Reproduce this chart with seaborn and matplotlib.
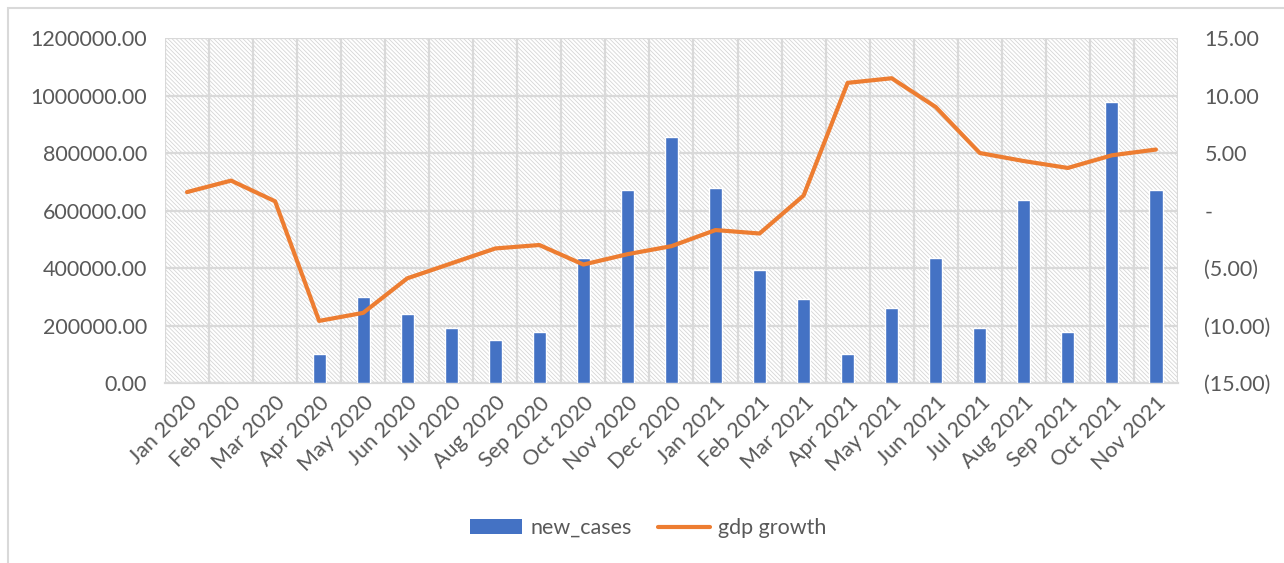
import matplotlib
matplotlib.use("Agg")
import matplotlib.pyplot as plt
import matplotlib.ticker as mticker
from matplotlib.lines import Line2D
from matplotlib.patches import Patch, Rectangle
import numpy as np
import pandas as pd
import seaborn as sns

# data
months = ["Jan 2020", "Feb 2020", "Mar 2020", "Apr 2020", "May 2020", "Jun 2020",
          "Jul 2020", "Aug 2020", "Sep 2020", "Oct 2020", "Nov 2020", "Dec 2020",
          "Jan 2021", "Feb 2021", "Mar 2021", "Apr 2021", "May 2021", "Jun 2021",
          "Jul 2021", "Aug 2021", "Sep 2021", "Oct 2021", "Nov 2021"]
new_cases = [0, 0, 0, 100000, 300000, 240000,
             190000, 150000, 178000, 435000, 670000, 855000,
             680000, 392000, 293000, 100000, 262000, 435000,
             190000, 635000, 178000, 978000, 670000]
gdp_growth = [1.6, 2.6, 0.8, -9.6, -8.9, -5.9,
              -4.6, -3.3, -3.0, -4.7, -3.8, -3.1,
              -1.7, -2.0, 1.3, 11.1, 11.5, 9.0,
              5.0, 4.3, 3.7, 4.8, 5.3]

left_ticks = [0, 200000, 400000, 600000, 800000, 1000000, 1200000]
right_ticks = [-15, -10, -5, 0, 5, 10, 15]

BLUE = "#4472C4"
ORANGE = "#ED7D31"
GRID = "#d9d9d9"
TXT = "#595959"
FS = 15.5

df = pd.DataFrame({"month": months, "new_cases": new_cases, "gdp": gdp_growth})

sns.set_style("white")
plt.rcParams["font.family"] = ["Lato", "DejaVu Sans"]
plt.rcParams["hatch.color"] = "#d6d6d6"
plt.rcParams["hatch.linewidth"] = 0.6

fig = plt.figure(figsize=(12.84, 5.63), dpi=100)
ax = fig.add_axes([0.1285, 0.3197, 0.7889, 0.6128])

# hatched plot area like the Excel chart
ax.patch.set_facecolor("white")
ax.patch.set_hatch("\\" * 8)
ax.patch.set_edgecolor("#d6d6d6")
ax.patch.set_linewidth(0)

sns.barplot(data=df, x="month", y="new_cases", color=BLUE, width=0.3,
            saturation=1, ax=ax, zorder=3)

ax.set_ylim(0, 1200000)
ax.set_xlim(-0.5, len(months) - 0.5)
ax.set_yticks(left_ticks)
ax.yaxis.set_major_formatter(mticker.FuncFormatter(lambda v, p: f"{v:.2f}"))
ax.set_xlabel("")
ax.set_ylabel("")

# grid: horizontal at y ticks, vertical at category boundaries
ax.set_xticks(np.arange(-0.5, len(months)), minor=True)
ax.grid(axis="y", which="major", color=GRID, linewidth=1.6, zorder=1)
ax.grid(axis="x", which="minor", color=GRID, linewidth=1.6, zorder=1)
ax.set_axisbelow(True)
for s in ["top", "right", "left"]:
    ax.spines[s].set_visible(False)
ax.spines["bottom"].set_color(GRID)
ax.spines["bottom"].set_linewidth(1.6)

ax.tick_params(axis="y", length=0, pad=13, labelsize=FS, labelcolor=TXT)
ax.tick_params(axis="x", which="major", length=0, pad=7, labelsize=FS, labelcolor=TXT)
ax.tick_params(axis="x", which="minor", length=6, width=1.6, color=GRID)
plt.setp(ax.get_xticklabels(), rotation=45, ha="right", rotation_mode="anchor")

ax2 = ax.twinx()
sns.lineplot(data=df, x="month", y="gdp", color=ORANGE, linewidth=3,
             ax=ax2, sort=False)
ax2.set_ylim(-15, 15)
ax2.set_yticks(right_ticks)


def acct(v, p):
    if abs(v) < 1e-9:
        return "-"
    if v < 0:
        return f"({abs(v):.2f})"
    return f"{v:.2f}"


ax2.yaxis.set_major_formatter(mticker.FuncFormatter(acct))
ax2.set_ylabel("")
ax2.tick_params(axis="y", length=0, pad=19, labelsize=FS, labelcolor=TXT)
for s in ax2.spines.values():
    s.set_visible(False)
ax2.set_xlim(-0.5, len(months) - 0.5)

handles = [Patch(facecolor=BLUE, edgecolor="none"),
           Line2D([0], [0], color=ORANGE, linewidth=3)]
fig.legend(handles, ["new_cases", "gdp growth"], loc="center",
           bbox_to_anchor=(0.505, 0.062), ncol=2, frameon=False,
           fontsize=FS, labelcolor=TXT, handlelength=2.4, handleheight=0.7,
           columnspacing=1.2, handletextpad=0.4)

# chart border
fig.add_artist(Rectangle((8 / 1284, -0.1), 1.2, 1.1 - 8 / 563,
                         transform=fig.transFigure, fill=False,
                         edgecolor=GRID, linewidth=1.5))

fig.savefig("out.png", dpi=100)
